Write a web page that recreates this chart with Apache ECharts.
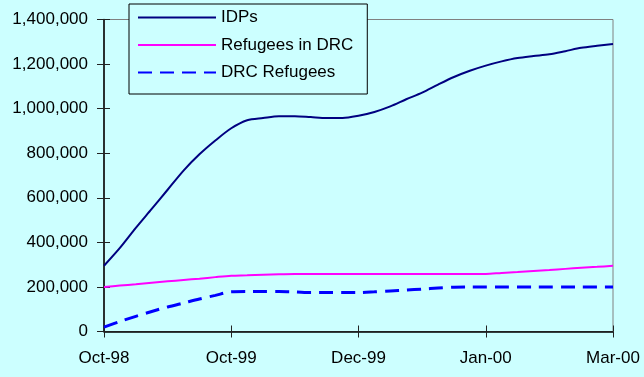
<!DOCTYPE html>
<html>
<head>
<meta charset="utf-8">
<script src="https://cdn.jsdelivr.net/npm/echarts@6/dist/echarts.min.js"></script>
<style>
  html, body { margin: 0; padding: 0; background: #CCFFFF; }
  #chart { width: 644px; height: 377px; }
</style>
</head>
<body>
<div id="chart"></div>
<script>
// tick labels on the x axis, 8 steps between each
const tickLabels = ['Oct-98', 'Oct-99', 'Dec-99', 'Jan-00', 'Mar-00'];
const stepsPerTick = 8;

const idps = [
    295000, 375000, 465000, 550000, 636000, 722000, 795000, 857000, 912000,
    948000, 958000, 966000, 966000, 962000, 958000, 958000, 968000,
    985000, 1010000, 1042000, 1072000, 1108000, 1142000, 1170000, 1193000,
    1212000, 1227000, 1236000, 1244000, 1258000, 1273000, 1282000, 1290000
];
const refugeesInDrc = [
    200000, 206000, 212000, 219000, 225000, 231000, 237000, 244000, 250000,
    252000, 255000, 257000, 258000, 258000, 258000, 258000, 258000,
    258000, 258000, 258000, 258000, 258000, 258000, 258000, 258000,
    263000, 267000, 272000, 276000, 281000, 286000, 290000, 295000
];
const drcRefugees = [
    20000, 45000, 68000, 90000, 110000, 128000, 146000, 162000, 178000,
    179000, 179000, 179000, 178000, 175000, 175000, 175000, 175000,
    178000, 182000, 186000, 190000, 195000, 199000, 200000, 200000,
    200000, 200000, 200000, 200000, 200000, 200000, 200000, 200000
];

const categories = [];
tickLabels.forEach((t, i) => {
    categories.push(t);
    if (i < tickLabels.length - 1) {
        for (let k = 1; k < stepsPerTick; k++) categories.push(t + '/' + k);
    }
});

function addCommas(v) {
    return String(v).replace(/\B(?=(\d{3})+(?!\d))/g, ',');
}

const font = 'Liberation Sans';
const chart = echarts.init(document.getElementById('chart'));

const option = {
    backgroundColor: '#CCFFFF',
    textStyle: { fontFamily: font },
    grid: {
        left: 104, right: 31, top: 19.5, bottom: 45.5,
        show: true, borderColor: '#808080', borderWidth: 1,
        backgroundColor: 'transparent'
    },
    legend: {
        orient: 'vertical',
        left: 129, top: 4,
        padding: [5, 14, 13, 8],
        itemWidth: 78, itemHeight: 20, itemGap: 10.5,
        backgroundColor: '#CCFFFF',
        borderColor: '#000', borderWidth: 1,
        itemStyle: { opacity: 0 },
        textStyle: { fontFamily: font, fontSize: 17, color: '#000' },
        data: ['IDPs', 'Refugees in DRC', 'DRC Refugees']
    },
    xAxis: [
        {
            type: 'category', data: categories, boundaryGap: false,
            axisLine: { lineStyle: { color: '#000', width: 1.5 } },
            axisTick: { interval: stepsPerTick - 1, length: 6, lineStyle: { color: '#222' } },
            axisLabel: {
                interval: stepsPerTick - 1, margin: 18,
                fontFamily: font, fontSize: 17, color: '#000'
            },
            splitLine: { show: false }
        },
        {
            type: 'category', data: categories, boundaryGap: false, position: 'bottom',
            axisLine: { show: false },
            axisTick: { inside: true, interval: stepsPerTick - 1, length: 6, lineStyle: { color: '#222' } },
            axisLabel: { show: false },
            splitLine: { show: false }
        }
    ],
    yAxis: [
        {
            type: 'value', min: 0, max: 1400000, interval: 200000,
            axisLine: { show: true, lineStyle: { color: '#000', width: 1.5 } },
            axisTick: { show: true, length: 7, lineStyle: { color: '#222' } },
            axisLabel: {
                margin: 16, fontFamily: font, fontSize: 17, color: '#000',
                formatter: addCommas
            },
            splitLine: { show: false }
        },
        {
            type: 'value', min: 0, max: 1400000, interval: 200000, position: 'left',
            axisLine: { show: false },
            axisTick: { show: true, inside: true, length: 6, lineStyle: { color: '#222' } },
            axisLabel: { show: false },
            splitLine: { show: false }
        }
    ],
    series: [
        {
            name: 'IDPs', type: 'line', data: idps, symbol: 'none', smooth: 0.3,
            lineStyle: { color: '#000080', width: 2 }, itemStyle: { color: '#000080' }
        },
        {
            name: 'Refugees in DRC', type: 'line', data: refugeesInDrc, symbol: 'none', smooth: 0.3,
            lineStyle: { color: '#FF00FF', width: 2 }, itemStyle: { color: '#FF00FF' }
        },
        {
            name: 'DRC Refugees', type: 'line', data: drcRefugees, symbol: 'none', smooth: 0.3,
            lineStyle: { color: '#0000FF', width: 3, type: [14, 8] }, itemStyle: { color: '#0000FF' }
        }
    ]
};

chart.setOption(option);
</script>
</body>
</html>
